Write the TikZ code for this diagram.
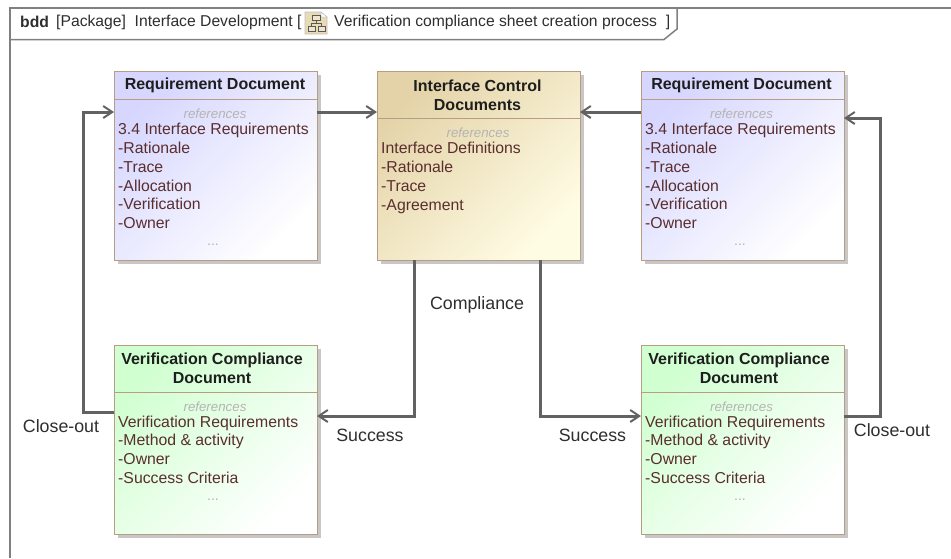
\documentclass[tikz,border=0pt]{standalone}
\usepackage{fontspec}
\setmainfont{Liberation Sans}
\usetikzlibrary{arrows.meta,shadows,calc}
\definecolor{edgec}{HTML}{626262}
\definecolor{boxline}{HTML}{B89C84}
\definecolor{bodytext}{HTML}{5A2E2E}
\definecolor{headtext}{HTML}{1E1E1E}
\definecolor{reftext}{HTML}{B4B4B4}
\definecolor{framec}{HTML}{808080}
\definecolor{bluea}{HTML}{D6D6FF}
\definecolor{greena}{HTML}{D0FFD0}
\definecolor{tana}{HTML}{E4D3A8}
\definecolor{tanb}{HTML}{FFFCE4}
\tikzset{
  docbox/.style={rectangle,draw=boxline,line width=.8pt,minimum width=203pt,minimum height=189pt,inner sep=0pt,outer sep=0pt,
    drop shadow={shadow xshift=3.5pt,shadow yshift=-3.5pt,fill=black!22,draw=none,opacity=1}},
  reqfill/.style={left color=bluea,right color=white,shading angle=45},
  greenfill/.style={left color=greena,right color=white,shading angle=45},
  tanfill/.style={left color=tana,right color=tanb,shading angle=45},
  headlabel/.style={font=\bfseries\fontsize{16}{19}\selectfont,text=headtext,align=center,inner sep=0pt},
  bodylabel/.style={font=\fontsize{15.8}{18.8}\selectfont,text=bodytext,align=left,anchor=north west,inner sep=0pt},
  reflabel/.style={font=\itshape\fontsize{13.3}{14}\selectfont,text=reftext,inner sep=0pt},
  dotslabel/.style={font=\fontsize{14}{15}\selectfont,text=reftext,inner sep=0pt},
  edgelabel/.style={font=\fontsize{17.8}{20}\selectfont,text=black!82,inner sep=0pt},
  titlelabel/.style={font=\fontsize{15.7}{17}\selectfont,text=black!82,anchor=west,inner sep=0pt},
  conn/.style={draw=edgec,line width=3pt,-{Straight Barb[length=9pt,width=12pt,line width=2pt]}},
  seprule/.style={draw=boxline,line width=.8pt},
  framerule/.style={draw=framec,line width=1.5pt},
}
\begin{document}
\begin{tikzpicture}[x=1pt,y=-1pt]
\useasboundingbox[fill=white] (0,0) rectangle (951,558);
% frame
\draw[framerule] (951,8) -- (10,8) -- (10,558);
\draw[framerule] (677,8) -- (677,29) -- (664,39.5) -- (10,39.5);
\node[titlelabel,font=\bfseries\fontsize{15.7}{17}\selectfont] (tbdd) at (20,22) {bdd};
\node[titlelabel] (tpkg) at (56,22) {[Package]\ \ Interface Development [};
\node[titlelabel] (tname) at (334,22) {Verification compliance sheet creation process\ \ ]};
% diagram icon
\draw[fill=tana!85!white,draw=black!25,line width=.6pt] (305,12) -- (321,12) -- (327,17) -- (327,34) -- (305,34) -- cycle;
\draw[fill=white,draw=black!25,line width=.5pt] (321,12) -- (321,17) -- (327,17) -- cycle;
\draw[draw=black!65,line width=.8pt,fill=tana!60!white] (312,15.5) rectangle (320,20.5) (308,26) rectangle (315,31) (318,26) rectangle (325,31);
\draw[draw=black!65,line width=.8pt] (316,20.5) -- (316,23.5) (311.5,26) -- (311.5,23.5) -- (321.5,23.5) -- (321.5,26);

% boxes
\node[docbox,reqfill] (reqL) at (215.5,165.5) {};
\node[docbox,tanfill] (icd) at (478.5,165.5) {};
\node[docbox,reqfill] (reqR) at (742.5,165.5) {};
\node[docbox,greenfill] (verL) at (215.5,440) {};
\node[docbox,greenfill] (verR) at (742.5,440) {};
% compartment rules
\draw[seprule] (reqL.west |- 0,99) -- (reqL.east |- 0,99);
\draw[seprule] (icd.west |- 0,118) -- (icd.east |- 0,118);
\draw[seprule] (reqR.west |- 0,99) -- (reqR.east |- 0,99);
\draw[seprule] (verL.west |- 0,392) -- (verL.east |- 0,392);
\draw[seprule] (verR.west |- 0,392) -- (verR.east |- 0,392);

% Requirement left
\node[headlabel] (reqLh) at (215,85.5) {Requirement Document};
\node[reflabel] (reqLr) at (215,113.5) {references};
\node[bodylabel] (reqLb) at (118,123) {3.4 Interface Requirements\\-Rationale\\-Trace\\-Allocation\\-Verification\\-Owner};
\node[dotslabel] (reqLd) at (213,245) {...};
% ICD
\node[headlabel] (icdh) at (477.5,95) {Interface Control\\Documents};
\node[reflabel] (icdr) at (478,132.5) {references};
\node[bodylabel] (icdb) at (381,142) {Interface Definitions\\-Rationale\\-Trace\\-Agreement};
% Requirement right
\node[headlabel] (reqRh) at (741.5,85.5) {Requirement Document};
\node[reflabel] (reqRr) at (741.5,113.5) {references};
\node[bodylabel] (reqRb) at (645,123) {3.4 Interface Requirements\\-Rationale\\-Trace\\-Allocation\\-Verification\\-Owner};
\node[dotslabel] (reqRd) at (740,245) {...};
% Verification left
\node[headlabel] (verLh) at (212,368.5) {Verification Compliance\\Document};
\node[reflabel] (verLr) at (215,406.5) {references};
\node[bodylabel] (verLb) at (118,415.5) {Verification Requirements\\-Method \& activity\\-Owner\\-Success Criteria};
\node[dotslabel] (verLd) at (213,500) {...};
% Verification right
\node[headlabel] (verRh) at (739,368.5) {Verification Compliance\\Document};
\node[reflabel] (verRr) at (741.5,406.5) {references};
\node[bodylabel] (verRb) at (645,415.5) {Verification Requirements\\-Method \& activity\\-Owner\\-Success Criteria};
\node[dotslabel] (verRd) at (740,500) {...};

% connector bends
\coordinate (bendCL) at (83,300);
\coordinate (bendSL) at (414,300);
\coordinate (bendSR) at (540,300);
\coordinate (bendCR) at (880,300);

% connectors
\draw[conn] ([yshift=53.5pt]reqL.east) -- ([yshift=53.5pt]icd.west);
\draw[conn] ([yshift=53.5pt]reqR.west) -- ([yshift=53.5pt]icd.east);
\draw[conn] ([yshift=28pt]verL.west) -| (bendCL) |- ([yshift=53.5pt]reqL.west);
\draw[conn] (bendSL |- icd.south) |- ([yshift=24pt]verL.east);
\draw[conn] (bendSR |- icd.south) |- ([yshift=24pt]verR.west);
\draw[conn] ([yshift=24pt]verR.east) -| (bendCR) |- ([yshift=47.5pt]reqR.east);

% labels
\node[edgelabel] (lcomp) at (477,304.5) {Compliance};
\node[edgelabel] (lcol) at (61,426) {Close-out};
\node[edgelabel] (lsuL) at (370,435) {Success};
\node[edgelabel] (lsuR) at (592.5,435) {Success};
\node[edgelabel] (lcor) at (892,430) {Close-out};
\end{tikzpicture}
\end{document}
